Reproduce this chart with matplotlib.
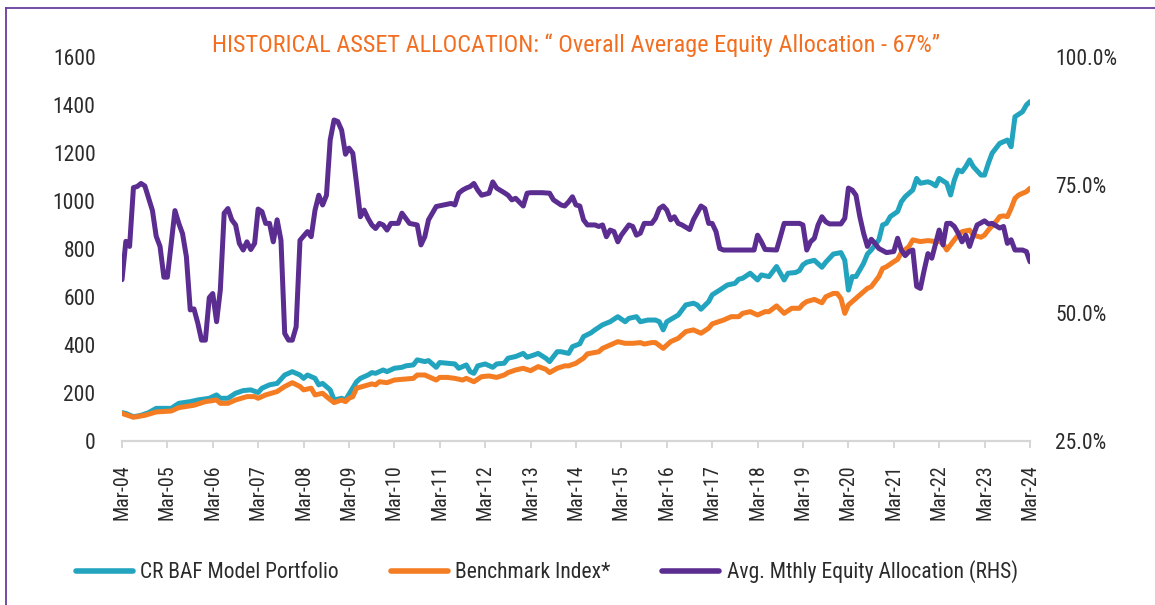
import pandas as pd
import matplotlib
matplotlib.use("Agg")
import matplotlib.pyplot as plt
from matplotlib import font_manager
from matplotlib.lines import Line2D

# pick a narrow font if one is around, else Roboto
names = {f.name for f in font_manager.fontManager.ttflist}
font = "Roboto"
for cand in ["Roboto Condensed", "Liberation Sans Narrow", "DejaVu Sans Condensed"]:
    if cand in names:
        font = cand
        break
plt.rcParams["font.family"] = [font, "DejaVu Sans"]

# months counted from Mar-04
port_m = [0, 1, 3, 5, 7, 9, 11, 13, 15, 18, 20, 23, 25, 26, 28, 30, 32, 34, 36, 37, 39, 41, 43, 45, 47,
          48, 49, 51, 52, 53, 55, 56, 58, 59, 60, 62, 63, 65, 66, 67, 69, 70, 72, 74, 75, 77, 78, 80, 81,
          83, 84, 86, 88, 89, 91, 92, 93, 94, 96, 98, 99, 101, 102, 104, 106, 107, 109, 110, 112, 113,
          115, 116, 118, 119, 121, 122, 124, 125, 127, 129, 131, 133, 134, 136, 137, 139, 141, 142, 143,
          144, 147, 149, 151, 152, 153, 155, 156, 158, 160, 162, 163, 164, 166, 168, 169, 171, 173, 175,
          176, 178, 179, 180, 181, 183, 185, 186, 188, 190, 191, 192, 193, 194, 196, 197, 198, 200, 201,
          202, 203, 205, 206, 207, 209, 210, 211, 213, 214, 215, 216, 218, 219, 220, 221, 222, 223, 224,
          225, 227, 228, 229, 230, 232, 233, 234, 235, 236, 238, 239, 240]
port_v = [118, 115, 101, 107, 118, 136, 136, 136, 157, 164, 171, 178, 192, 178, 178, 199, 210, 213, 202,
          220, 234, 240, 275, 289, 275, 261, 275, 261, 234, 240, 213, 171, 178, 171, 195, 247, 261, 275,
          285, 282, 296, 289, 303, 307, 313, 317, 338, 331, 335, 307, 327, 324, 321, 303, 317, 289, 282,
          313, 321, 307, 321, 324, 345, 352, 365, 349, 359, 365, 345, 331, 372, 372, 365, 393, 405, 435,
          451, 463, 484, 497, 518, 497, 511, 518, 497, 504, 504, 497, 463, 497, 525, 567, 574, 567, 549,
          581, 609, 629, 650, 657, 674, 678, 699, 671, 692, 685, 727, 671, 699, 702, 710, 734, 745, 753,
          724, 745, 779, 785, 753, 629, 685, 685, 740, 779, 796, 838, 900, 907, 935, 956, 997, 1018, 1046,
          1094, 1074, 1080, 1074, 1063, 1094, 1074, 1025, 1087, 1129, 1122, 1143, 1171, 1143, 1108, 1108,
          1157, 1199, 1240, 1247, 1254, 1226, 1351, 1372, 1400, 1414]

bench_m = [0, 3, 6, 9, 13, 15, 19, 22, 25, 26, 28, 30, 33, 35, 36, 38, 41, 43, 45, 47, 48, 50, 51, 53,
           54, 56, 58, 59, 60, 61, 62, 64, 66, 67, 68, 70, 72, 74, 77, 78, 80, 83, 84, 86, 88, 90, 91, 93,
           95, 97, 99, 101, 102, 104, 106, 108, 110, 112, 113, 115, 117, 118, 120, 121, 122, 123, 126,
           127, 129, 131, 133, 135, 137, 138, 140, 141, 143, 145, 147, 149, 151, 153, 155, 156, 159, 161,
           163, 164, 166, 168, 170, 171, 173, 175, 177, 179, 180, 181, 183, 185, 186, 188, 189, 190, 191,
           192, 193, 196, 197, 198, 200, 201, 202, 204, 205, 206, 208, 209, 211, 213, 215, 216, 217, 218,
           220, 221, 222, 224, 225, 227, 228, 229, 231, 232, 233, 234, 235, 236, 237, 239, 240]
bench_v = [115, 99, 107, 121, 125, 139, 149, 164, 171, 157, 157, 171, 185, 185, 178, 192, 206, 227, 243,
           227, 213, 220, 192, 199, 185, 160, 171, 164, 178, 185, 220, 229, 238, 234, 247, 243, 254, 257,
           261, 275, 275, 254, 265, 265, 261, 254, 261, 247, 268, 271, 265, 275, 285, 296, 303, 293, 310,
           299, 285, 303, 313, 313, 324, 335, 345, 363, 372, 386, 400, 414, 407, 407, 410, 404, 410, 410,
           386, 414, 428, 456, 463, 449, 470, 488, 504, 518, 518, 532, 539, 525, 539, 539, 563, 532, 553,
           553, 570, 581, 590, 576, 601, 615, 615, 594, 532, 567, 581, 622, 636, 643, 685, 719, 726, 747,
           757, 785, 810, 838, 831, 835, 831, 831, 824, 796, 838, 858, 872, 879, 858, 849, 858, 879, 914,
           935, 938, 935, 969, 1011, 1025, 1039, 1053]

alloc_m = [0, 1, 2, 3, 4, 5, 6, 8, 9, 10, 11, 12, 14, 15, 16, 17, 18, 19, 20, 21, 22, 23, 24, 25, 26,
           27, 28, 29, 30, 31, 32, 33, 34, 35, 36, 37, 38, 39, 40, 41, 42, 43, 44, 45, 46, 47, 49, 50,
           51, 52, 53, 54, 55, 56, 57, 58, 59, 60, 61, 62, 63, 64, 65, 66, 67, 68, 69, 70, 71, 73, 74,
           75, 76, 78, 79, 80, 81, 83, 85, 87, 88, 89, 90, 91, 92, 93, 94, 95, 97, 98, 99, 101, 102, 103,
           104, 106, 107, 108, 110, 111, 113, 114, 116, 117, 118, 119, 120, 121, 122, 123, 125, 126, 127,
           128, 129, 130, 131, 132, 133, 134, 135, 136, 137, 138, 140, 141, 142, 143, 144, 145, 146, 147,
           148, 150, 151, 153, 154, 155, 156, 157, 158, 159, 167, 168, 169, 170, 173, 174, 175, 179, 180,
           181, 182, 183, 184, 185, 186, 187, 190, 191, 192, 193, 194, 195, 196, 197, 198, 199, 200, 202,
           204, 205, 206, 207, 208, 209, 210, 211, 212, 213, 214, 215, 216, 217, 218, 219, 220, 221, 222,
           223, 224, 225, 226, 227, 228, 229, 230, 232, 233, 234, 235, 236, 238, 239, 240]
alloc_v = [56.5, 64.0, 63.0, 74.5, 74.7, 75.3, 74.8, 70.0, 65.0, 63.0, 57.0, 57.0, 70.0, 67.5, 65.5,
           61.0, 50.6, 50.8, 48.0, 44.7, 44.7, 53.0, 53.8, 48.3, 54.5, 69.5, 70.4, 68.2, 67.2, 63.6, 62.3,
           63.9, 62.4, 63.6, 70.3, 69.8, 67.5, 67.5, 63.9, 68.2, 64.2, 46.0, 44.7, 44.7, 47.3, 64.2, 65.9,
           64.9, 70.1, 73.0, 71.1, 73.0, 83.8, 87.7, 87.4, 85.7, 81.0, 82.2, 81.2, 75.3, 68.8, 70.1, 68.5,
           67.2, 66.5, 67.5, 67.2, 66.2, 67.5, 67.5, 69.5, 68.5, 67.5, 67.2, 63.3, 64.9, 68.2, 70.8, 71.1,
           71.4, 71.1, 73.4, 74.0, 74.4, 74.7, 75.3, 74.0, 73.0, 73.4, 75.6, 74.4, 73.5, 73.0, 72.1, 72.4,
           70.9, 73.4, 73.5, 73.5, 73.5, 73.4, 72.1, 71.1, 70.9, 71.7, 72.7, 71.1, 70.9, 68.2, 67.2, 67.2,
           66.9, 67.2, 64.9, 66.2, 65.9, 63.9, 65.2, 66.2, 67.2, 66.9, 65.2, 65.6, 67.5, 67.5, 68.5, 70.4,
           70.9, 70.1, 68.2, 68.8, 67.5, 67.2, 66.3, 68.2, 70.9, 70.4, 67.5, 67.5, 65.9, 62.6, 62.3, 62.3,
           65.2, 63.9, 62.4, 62.3, 64.9, 67.5, 67.5, 67.2, 62.3, 63.9, 64.6, 67.2, 68.8, 67.8, 67.4, 67.4,
           68.5, 74.4, 74.0, 73.0, 68.8, 65.6, 63.0, 64.4, 63.6, 62.6, 61.8, 62.0, 64.6, 62.3, 61.2, 62.0,
           62.3, 55.2, 54.8, 58.4, 61.6, 60.7, 63.6, 66.2, 63.3, 67.5, 67.5, 66.9, 65.6, 63.9, 65.2, 63.0,
           65.2, 67.2, 67.6, 68.0, 67.4, 67.5, 66.6, 66.9, 63.6, 64.3, 62.3, 62.3, 62.0, 60.0]

tick_m = list(range(0, 241, 12))
tick_labels = ["Mar-%02d" % (y % 100) for y in range(2004, 2025)]

start = pd.Timestamp("2004-03-01")
def to_dates(months):
    return [start + pd.DateOffset(months=m) for m in months]

c_port = "#22A4BF"
c_bench = "#F47C22"
c_alloc = "#5B2D90"
c_text = "#2b2b2b"

fig = plt.figure(figsize=(11.55, 6.05), dpi=100)
ax = fig.add_axes([122 / 1155, 164 / 605, 908 / 1155, 384 / 605])
ax2 = ax.twinx()

lw = 3.6
ax.plot(to_dates(port_m), port_v, color=c_port, lw=lw, solid_joinstyle="round", solid_capstyle="round")
ax.plot(to_dates(bench_m), bench_v, color=c_bench, lw=lw, solid_joinstyle="round", solid_capstyle="round")
ax2.plot(to_dates(alloc_m), alloc_v, color=c_alloc, lw=lw, solid_joinstyle="round", solid_capstyle="round")

ax.set_xlim(start, start + pd.DateOffset(months=240))
ax.set_ylim(0, 1600)
ax2.set_ylim(25, 100)
ax.set_yticks(range(0, 1601, 200))
ax2.set_yticks([25, 50, 75, 100])
ax2.set_yticklabels(["25.0%", "50.0%", "75.0%", "100.0%"])
ax.set_xticks(to_dates(tick_m))
ax.set_xticklabels(tick_labels, rotation=90)

for a in (ax, ax2):
    for s in ["top", "left", "right"]:
        a.spines[s].set_visible(False)
    a.spines["bottom"].set_color("#d6d6d6")
    a.spines["bottom"].set_linewidth(1.6)
ax2.spines["bottom"].set_visible(False)

ax.tick_params(axis="x", length=5, width=1.4, color="#d6d6d6", labelsize=14.5, labelcolor=c_text, pad=12)
ax.tick_params(axis="y", length=0, labelsize=15.5, labelcolor=c_text, pad=19)
ax2.tick_params(axis="y", length=0, labelsize=15.5, labelcolor=c_text, pad=18)

fig.text(576 / 1155, 1 - 45 / 605, "HISTORICAL ASSET ALLOCATION: \u201c Overall Average Equity Allocation - 67%\u201d",
         ha="center", va="center", color="#F26F21", fontsize=17.5)

handles = [Line2D([0], [0], color=c_port, lw=4, solid_capstyle="round"),
           Line2D([0], [0], color=c_bench, lw=4, solid_capstyle="round"),
           Line2D([0], [0], color=c_alloc, lw=4, solid_capstyle="round")]
labels = ["CR BAF Model Portfolio", "Benchmark Index*", "Avg. Mthly Equity Allocation (RHS)"]
fig.legend(handles, labels, loc="center", bbox_to_anchor=(547 / 1155, 1 - 572 / 605), ncol=3,
           frameon=False, fontsize=15.5, handlelength=2.65, handletextpad=0.35, columnspacing=2.4,
           labelcolor=c_text)

# purple frame on top and left
fig.add_artist(Line2D([6 / 1155, 1], [1 - 8 / 605, 1 - 8 / 605], color="#6A3D9E", lw=1.3))
fig.add_artist(Line2D([6 / 1155, 6 / 1155], [0, 1 - 8 / 605], color="#6A3D9E", lw=1.3))

fig.savefig("out.png", dpi=100)
